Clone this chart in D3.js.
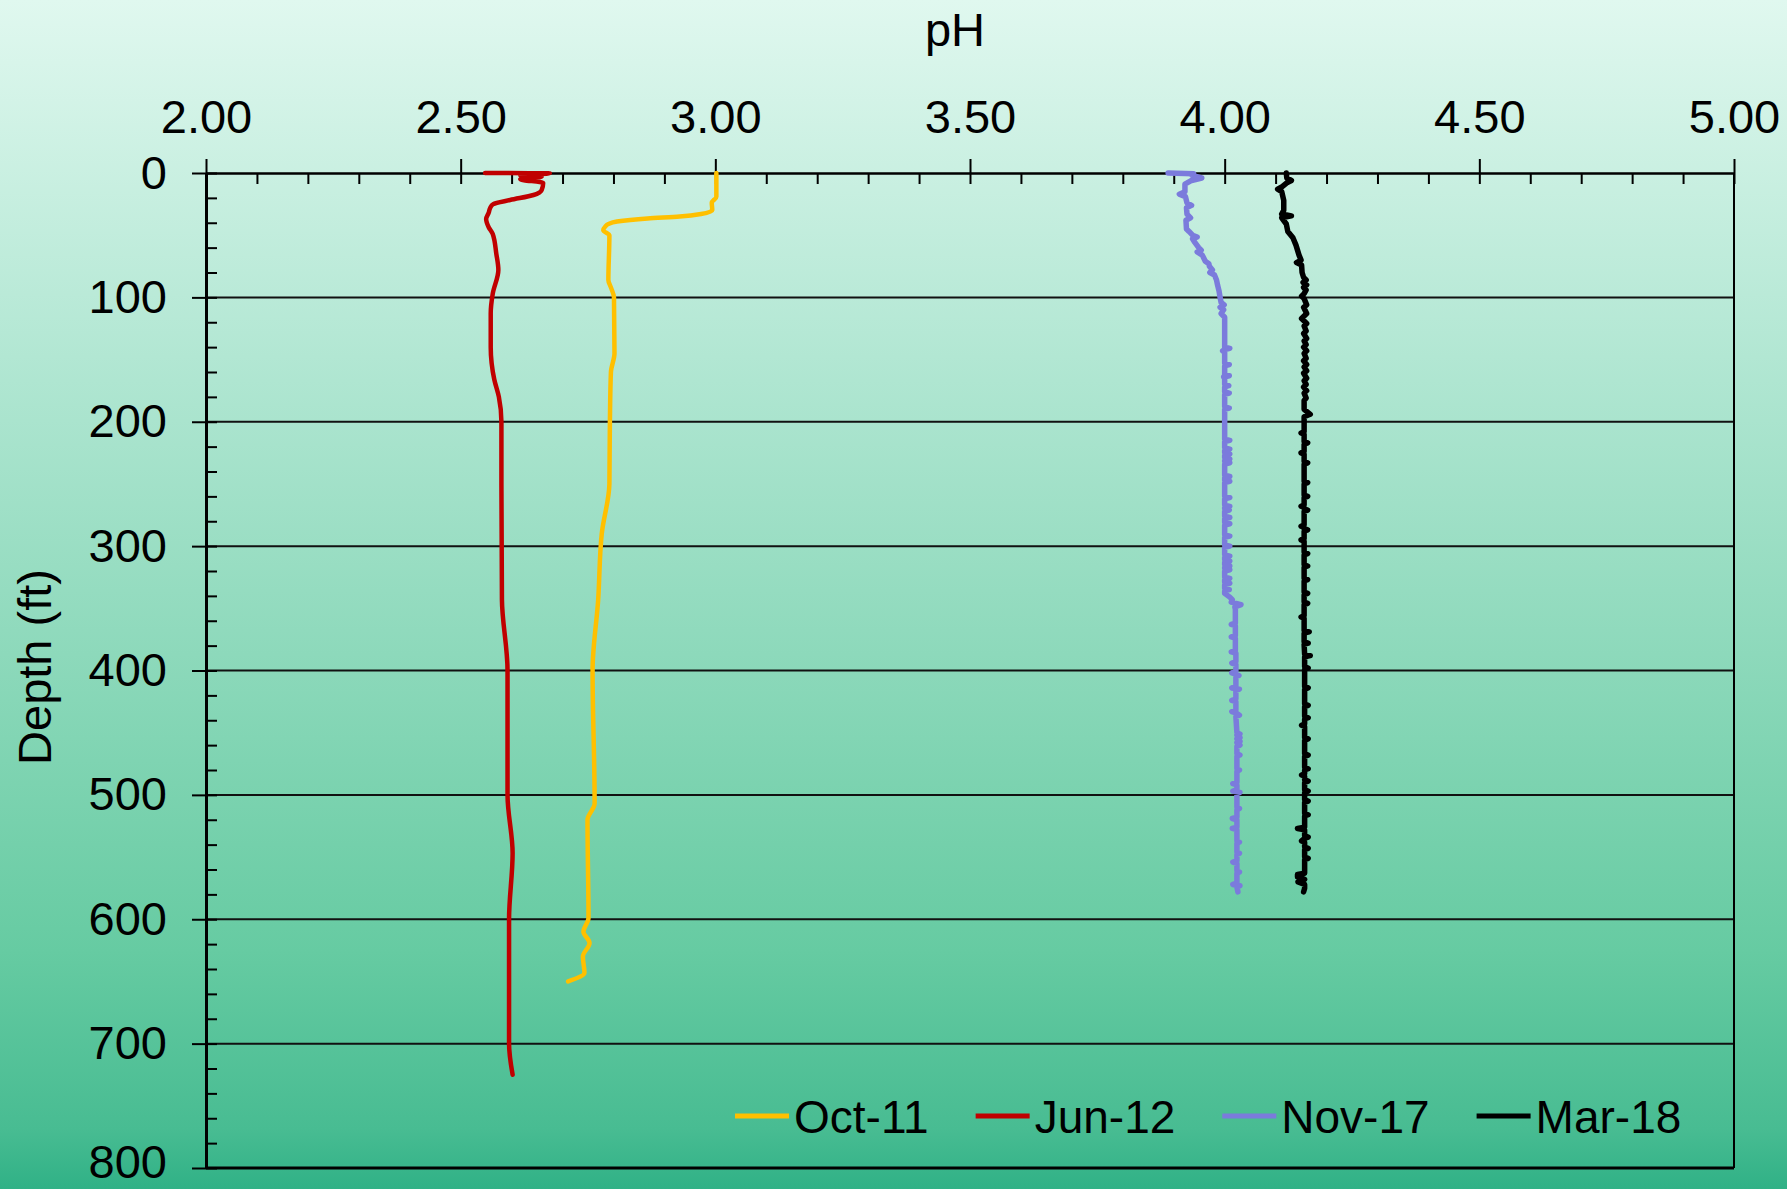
<!DOCTYPE html>
<html>
<head>
<meta charset="utf-8">
<script src="https://cdn.jsdelivr.net/npm/d3@7"></script>
<style>
  body { margin: 0; }
  svg { display: block; font-family: "Liberation Sans", Arial, sans-serif; }
</style>
</head>
<body>
<div id="chart-area"></div>
<script>
// pH tick labels and depth tick labels
const pHTicks = [2.0, 2.5, 3.0, 3.5, 4.0, 4.5, 5.0]
const depthTicks = [0, 100, 200, 300, 400, 500, 600, 700, 800]
const seriesNames = ["Oct-11", "Jun-12", "Nov-17", "Mar-18"]
const seriesColors = ["#ffc000", "#c00000", "#7b7bdc", "#000000"]

// [depth (ft), pH]
const oct11 = [[0,3.002],[19,3.002],[24,2.993],[30,2.994],[33,2.972],[35,2.930],[36.5,2.867],[39,2.807],
  [41,2.790],[43,2.784],[46,2.780],[50,2.792],[86,2.790],[92,2.795],[100,2.801],[145,2.802],[160,2.795],
  [200,2.793],[250,2.792],[290,2.777],[343,2.770],[400,2.759],[507,2.763],[520,2.749],[599,2.751],
  [610,2.741],[619,2.753],[630,2.740],[643,2.743],[650,2.711]]

const jun12 = [[0,2.548],[0.3,2.675],[1,2.640],[2,2.617],[3,2.659],[5,2.617],[8,2.662],[13.7,2.659],
  [17.7,2.643],[21.7,2.597],[25,2.564],[28,2.558],[32,2.555],[37,2.550],[43.6,2.555],[49,2.563],[65,2.570],
  [78,2.574],[97,2.563],[113,2.559],[140,2.559],[166,2.566],[180,2.575],[200,2.580],[250,2.580],[343,2.581],
  [400,2.592],[500,2.592],[547,2.602],[600,2.595],[700,2.595],[725,2.602]]

const nov17 = [[0,3.889],[0.6,3.939],[2,3.936],[4,3.955],[6,3.935],[9,3.922],[15,3.922],[17,3.911],[19,3.923],
  [24,3.926],[26,3.935],[28,3.925],[33,3.926],[36,3.933],[38,3.924],[45,3.925],[47,3.930],[50,3.937],[51.5,3.946],
  [53,3.937],[55,3.940],[60,3.949],[62,3.954],[63.5,3.946],[66,3.956],[71,3.962],[73,3.969],[75,3.970],[78,3.976],
  [80,3.971],[82,3.980],[86,3.984],[90,3.986],[95,3.989],[100,3.991],[104,3.993],[106,3.999],[108,3.991],
  [110,3.998],[113,3.993],[116,4.000],
  [140,4.000],[141,4.010],[142,4.000],[143,3.996],[144,4.000],[153,4.000],[154,4.009],[155,4.000],
  [162,4.000],[163,4.009],[164,3.998],[165,4.000],[170,4.000],[171,4.008],[172,4.000],[176,4.000],[177,4.009],
  [178,4.000],[188,4.000],[189,4.009],[190,4.000],[214,4.000],[215,4.010],[216,4.000],[221,4.000],[222,4.010],
  [223,4.000],[225,4.000],[226,4.010],[227,4.000],[229,4.000],[230,4.010],[231,4.000],[232,4.000],[233,4.010],
  [234,4.000],[243,4.000],[244,4.010],[245,4.000],[247,4.000],[248,4.010],[249,4.000],[260,4.000],[261,4.010],
  [262,4.000],[267,4.000],[268,4.010],[269,4.000],[270,4.000],[271,4.009],[272,4.000],[276,4.000],[277,4.010],
  [278,4.000],[281,4.000],[282,4.010],[283,4.000],[291,4.000],[292,4.010],[293,4.000],[299,4.000],[300,4.010],
  [301,4.000],[307,4.000],[308,4.010],[309,4.000],[311,4.000],[312,4.010],[313,4.000],[315,4.000],[316,4.010],
  [317,4.000],[318,4.000],[319,4.010],[320,4.000],[325,4.000],[326,4.010],[327,4.000],[329,4.000],[330,4.010],
  [331,4.000],[334,4.000],[335,4.009],[336,4.000],[338,4.000],[341,4.010],[343,4.015],[345,4.013],[347,4.032],
  [349,4.020],[351,4.021],[362,4.021],[363,4.013],[364,4.021],[372,4.021],[373,4.013],[374,4.021],[384,4.021],
  [385,4.013],[386,4.022],[393,4.022],[394,4.014],[395,4.022],[401,4.022],[402,4.014],[403,4.022],[404,4.028],
  [405,4.022],[413,4.022],[414,4.014],[415,4.029],[416,4.022],[423,4.022],[424,4.014],[425,4.022],[432,4.022],
  [433,4.014],[434,4.022],[436,4.029],[437,4.022],[450,4.024],[451,4.030],[452,4.024],[454,4.030],[455,4.024],
  [457,4.030],[458,4.024],[460,4.030],[461,4.024],[467,4.024],[468,4.030],[469,4.024],[479,4.024],[480,4.029],
  [481,4.024],[490,4.024],[491,4.016],[492,4.024],[496,4.024],[497,4.016],[498,4.030],[499,4.024],[510,4.024],
  [511,4.029],[512,4.024],[518,4.024],[519,4.015],[520,4.024],[526,4.024],[527,4.015],[528,4.024],[537,4.024],
  [538,4.029],[539,4.024],[546,4.024],[547,4.029],[548,4.024],[553,4.024],[554,4.016],[555,4.024],[561,4.024],
  [562,4.029],[563,4.024],[571,4.024],[572,4.016],[573,4.030],[574,4.024],[578,4.026]]

const mar18 = [[0,4.121],[4,4.122],[6,4.131],[8,4.122],[11,4.113],[13,4.104],[15,4.112],[22,4.116],[30,4.116],
  [33,4.112],[34.5,4.131],[36,4.112],[41,4.121],[47,4.124],[52,4.134],[58,4.140],[66,4.146],[70,4.150],[72,4.141],
  [74,4.151],[80,4.152],[84,4.155],[86,4.160],[88,4.154],[90,4.161],[92,4.155],[94,4.160],[97,4.156],[99,4.151],
  [101,4.156],[106,4.161],[108,4.155],[113,4.161],[115,4.156],[117,4.151],[119,4.156],[121,4.161],[123,4.156],
  [127,4.160],[129,4.155],[133,4.161],[135,4.156],[138,4.160],[140,4.155],[143,4.161],[145,4.156],[149,4.160],
  [151,4.155],[154,4.161],[156,4.156],[159,4.161],[161,4.155],[165,4.161],[167,4.156],[170,4.160],[172,4.155],
  [175,4.161],[177,4.156],[181,4.160],[183,4.156],[190,4.156],[194,4.168],[196,4.156],[208,4.156],[209,4.150],
  [210,4.156],[216,4.156],[217,4.163],[218,4.156],[224,4.156],[225,4.150],[226,4.156],[232,4.156],[233,4.163],
  [234,4.156],[248,4.156],[249,4.163],[250,4.156],[259,4.156],[260,4.163],[261,4.156],[267,4.156],[268,4.150],
  [269,4.156],[270,4.156],[271,4.163],[272,4.156],[283,4.156],[284,4.150],[285,4.156],[286,4.156],[287,4.163],
  [288,4.156],[294,4.156],[295,4.150],[296,4.156],[305,4.156],[306,4.163],[307,4.156],[315,4.156],[316,4.163],
  [317,4.156],[326,4.156],[327,4.163],[328,4.156],[337,4.156],[338,4.163],[339,4.156],[345,4.156],[346,4.163],
  [347,4.156],[356,4.156],[357,4.150],[358,4.156],[368,4.156],[369,4.166],[370,4.156],[377,4.156],[378,4.164],
  [379,4.156],[387,4.157],[388,4.168],[389,4.157],[397,4.157],[398,4.164],[399,4.157],[413,4.157],[414,4.164],
  [415,4.157],[427,4.157],[428,4.164],[429,4.157],[437,4.157],[438,4.164],[439,4.157],[443,4.157],[444,4.151],
  [445,4.157],[454,4.157],[455,4.164],[456,4.157],[467,4.157],[468,4.164],[469,4.157],[478,4.157],[479,4.164],
  [480,4.157],[483,4.157],[484,4.151],[485,4.157],[488,4.157],[489,4.164],[490,4.157],[496,4.157],[497,4.164],
  [498,4.157],[504,4.157],[505,4.164],[506,4.157],[515,4.157],[516,4.164],[517,4.157],[526,4.157],[527,4.143],
  [528,4.157],[533,4.157],[534,4.164],[535,4.157],[537,4.151],[538,4.157],[542,4.157],[543,4.164],[544,4.157],
  [550,4.157],[551,4.164],[552,4.157],[563,4.157],[564,4.143],[566,4.143],[568,4.157],[570,4.144],[572,4.157],
  [575,4.157],[578,4.155]]

const allSeries = [oct11, jun12, nov17, mar18]

const W = 1787, H = 1189
const margin = {left: 206, right: 53, top: 173, bottom: 21}
const width = W - margin.left - margin.right
const height = H - margin.top - margin.bottom
const font = 47

const svg = d3.select("#chart-area").append("svg")
    .attr("width", W)
    .attr("height", H)

// background gradient
const grad = svg.append("defs").append("linearGradient")
    .attr("id", "bg")
    .attr("x1", 0).attr("y1", 0).attr("x2", 0).attr("y2", 1)
grad.selectAll("stop")
    .data([[0, "#e0f8ef"], [0.3, "#b2e7d3"], [0.55, "#8dd9bb"], [0.8, "#66cba2"], [0.95, "#48bc92"], [1, "#30b186"]])
    .enter().append("stop")
    .attr("offset", d => d[0])
    .attr("stop-color", d => d[1])
svg.append("rect").attr("width", W).attr("height", H).attr("fill", "url(#bg)")

const g = svg.append("g")
    .attr("transform", `translate(${margin.left}, ${margin.top})`)

const x = d3.scaleLinear().domain([2, 5]).range([0, width])
const y = d3.scaleLinear().domain([0, 800]).range([0, height])

// gridlines
g.append("g")
    .selectAll("line")
    .data(depthTicks.slice(1, -1))
    .enter().append("line")
    .attr("x1", 0).attr("x2", width)
    .attr("y1", d => y(d)).attr("y2", d => y(d))
    .attr("stroke", "#111")
    .attr("stroke-width", 2)

// right and bottom border
g.append("line")
    .attr("x1", width).attr("x2", width).attr("y1", 0).attr("y2", height)
    .attr("stroke", "#000").attr("stroke-width", 2)
g.append("line")
    .attr("x1", 0).attr("x2", width).attr("y1", height).attr("y2", height)
    .attr("stroke", "#000").attr("stroke-width", 3)

// X axis (top) minor ticks
g.append("g")
    .attr("class", "x minor")
    .call(d3.axisTop(x).ticks(30).tickSize(-11).tickFormat(""))
    .call(a => a.select(".domain").remove())
    .selectAll("line").attr("stroke-width", 2)

// X axis major
const xAxis = g.append("g")
    .attr("class", "x axis")
    .call(d3.axisTop(x).tickValues(pHTicks).tickSize(14).tickSizeOuter(0).tickPadding(26).tickFormat(d3.format(".2f")))
xAxis.select(".domain").attr("stroke-width", 2.5)
xAxis.selectAll("line").attr("stroke-width", 2)
xAxis.selectAll("text").attr("font-size", font).attr("fill", "#000")
    .attr("font-family", "Liberation Sans, Arial, sans-serif")

// Y axis minor ticks
g.append("g")
    .attr("class", "y minor")
    .call(d3.axisLeft(y).ticks(32).tickSize(-11).tickFormat(""))
    .call(a => a.select(".domain").remove())
    .selectAll("line").attr("stroke-width", 2)

// Y axis major
const yAxis = g.append("g")
    .attr("class", "y axis")
    .call(d3.axisLeft(y).tickValues(depthTicks).tickSize(14).tickSizeOuter(0).tickPadding(25))
yAxis.select(".domain").attr("stroke-width", 3)
yAxis.selectAll("line").attr("stroke-width", 2)
yAxis.selectAll("text").attr("font-size", font).attr("fill", "#000")
    .attr("font-family", "Liberation Sans, Arial, sans-serif")
    .attr("dy", d => d === 800 ? "0.2em" : "0.32em")

// X label
svg.append("text")
    .attr("x", 955)
    .attr("y", 46)
    .attr("font-size", font)
    .attr("text-anchor", "middle")
    .text("pH")

// Y label
svg.append("text")
    .attr("transform", "translate(51, 667) rotate(-90)")
    .attr("font-size", font)
    .attr("text-anchor", "middle")
    .text("Depth (ft)")

// profiles
const smooth = [true, true, false, false]
allSeries.forEach((data, i) => {
    const line = d3.line()
        .x(d => x(d[1]))
        .y(d => y(d[0]))
        .curve(smooth[i] ? d3.curveMonotoneY : d3.curveLinear)
    g.append("path")
        .datum(data)
        .attr("d", line)
        .attr("fill", "none")
        .attr("stroke", seriesColors[i])
        .attr("stroke-width", i < 2 ? 4.5 : 5.5)
        .attr("stroke-linejoin", "round")
        .attr("stroke-linecap", "round")
})

// legend
const legend = svg.append("g").attr("class", "legend")
let lx = 735
seriesNames.forEach((name, i) => {
    legend.append("line")
        .attr("x1", lx).attr("x2", lx + 54)
        .attr("y1", 1116).attr("y2", 1116)
        .attr("stroke", seriesColors[i])
        .attr("stroke-width", 5)
    const t = legend.append("text")
        .attr("x", lx + 59)
        .attr("y", 1133)
        .attr("font-size", 46)
        .text(name)
    lx += 59 + t.node().getComputedTextLength() + 47
})
</script>
</body>
</html>
